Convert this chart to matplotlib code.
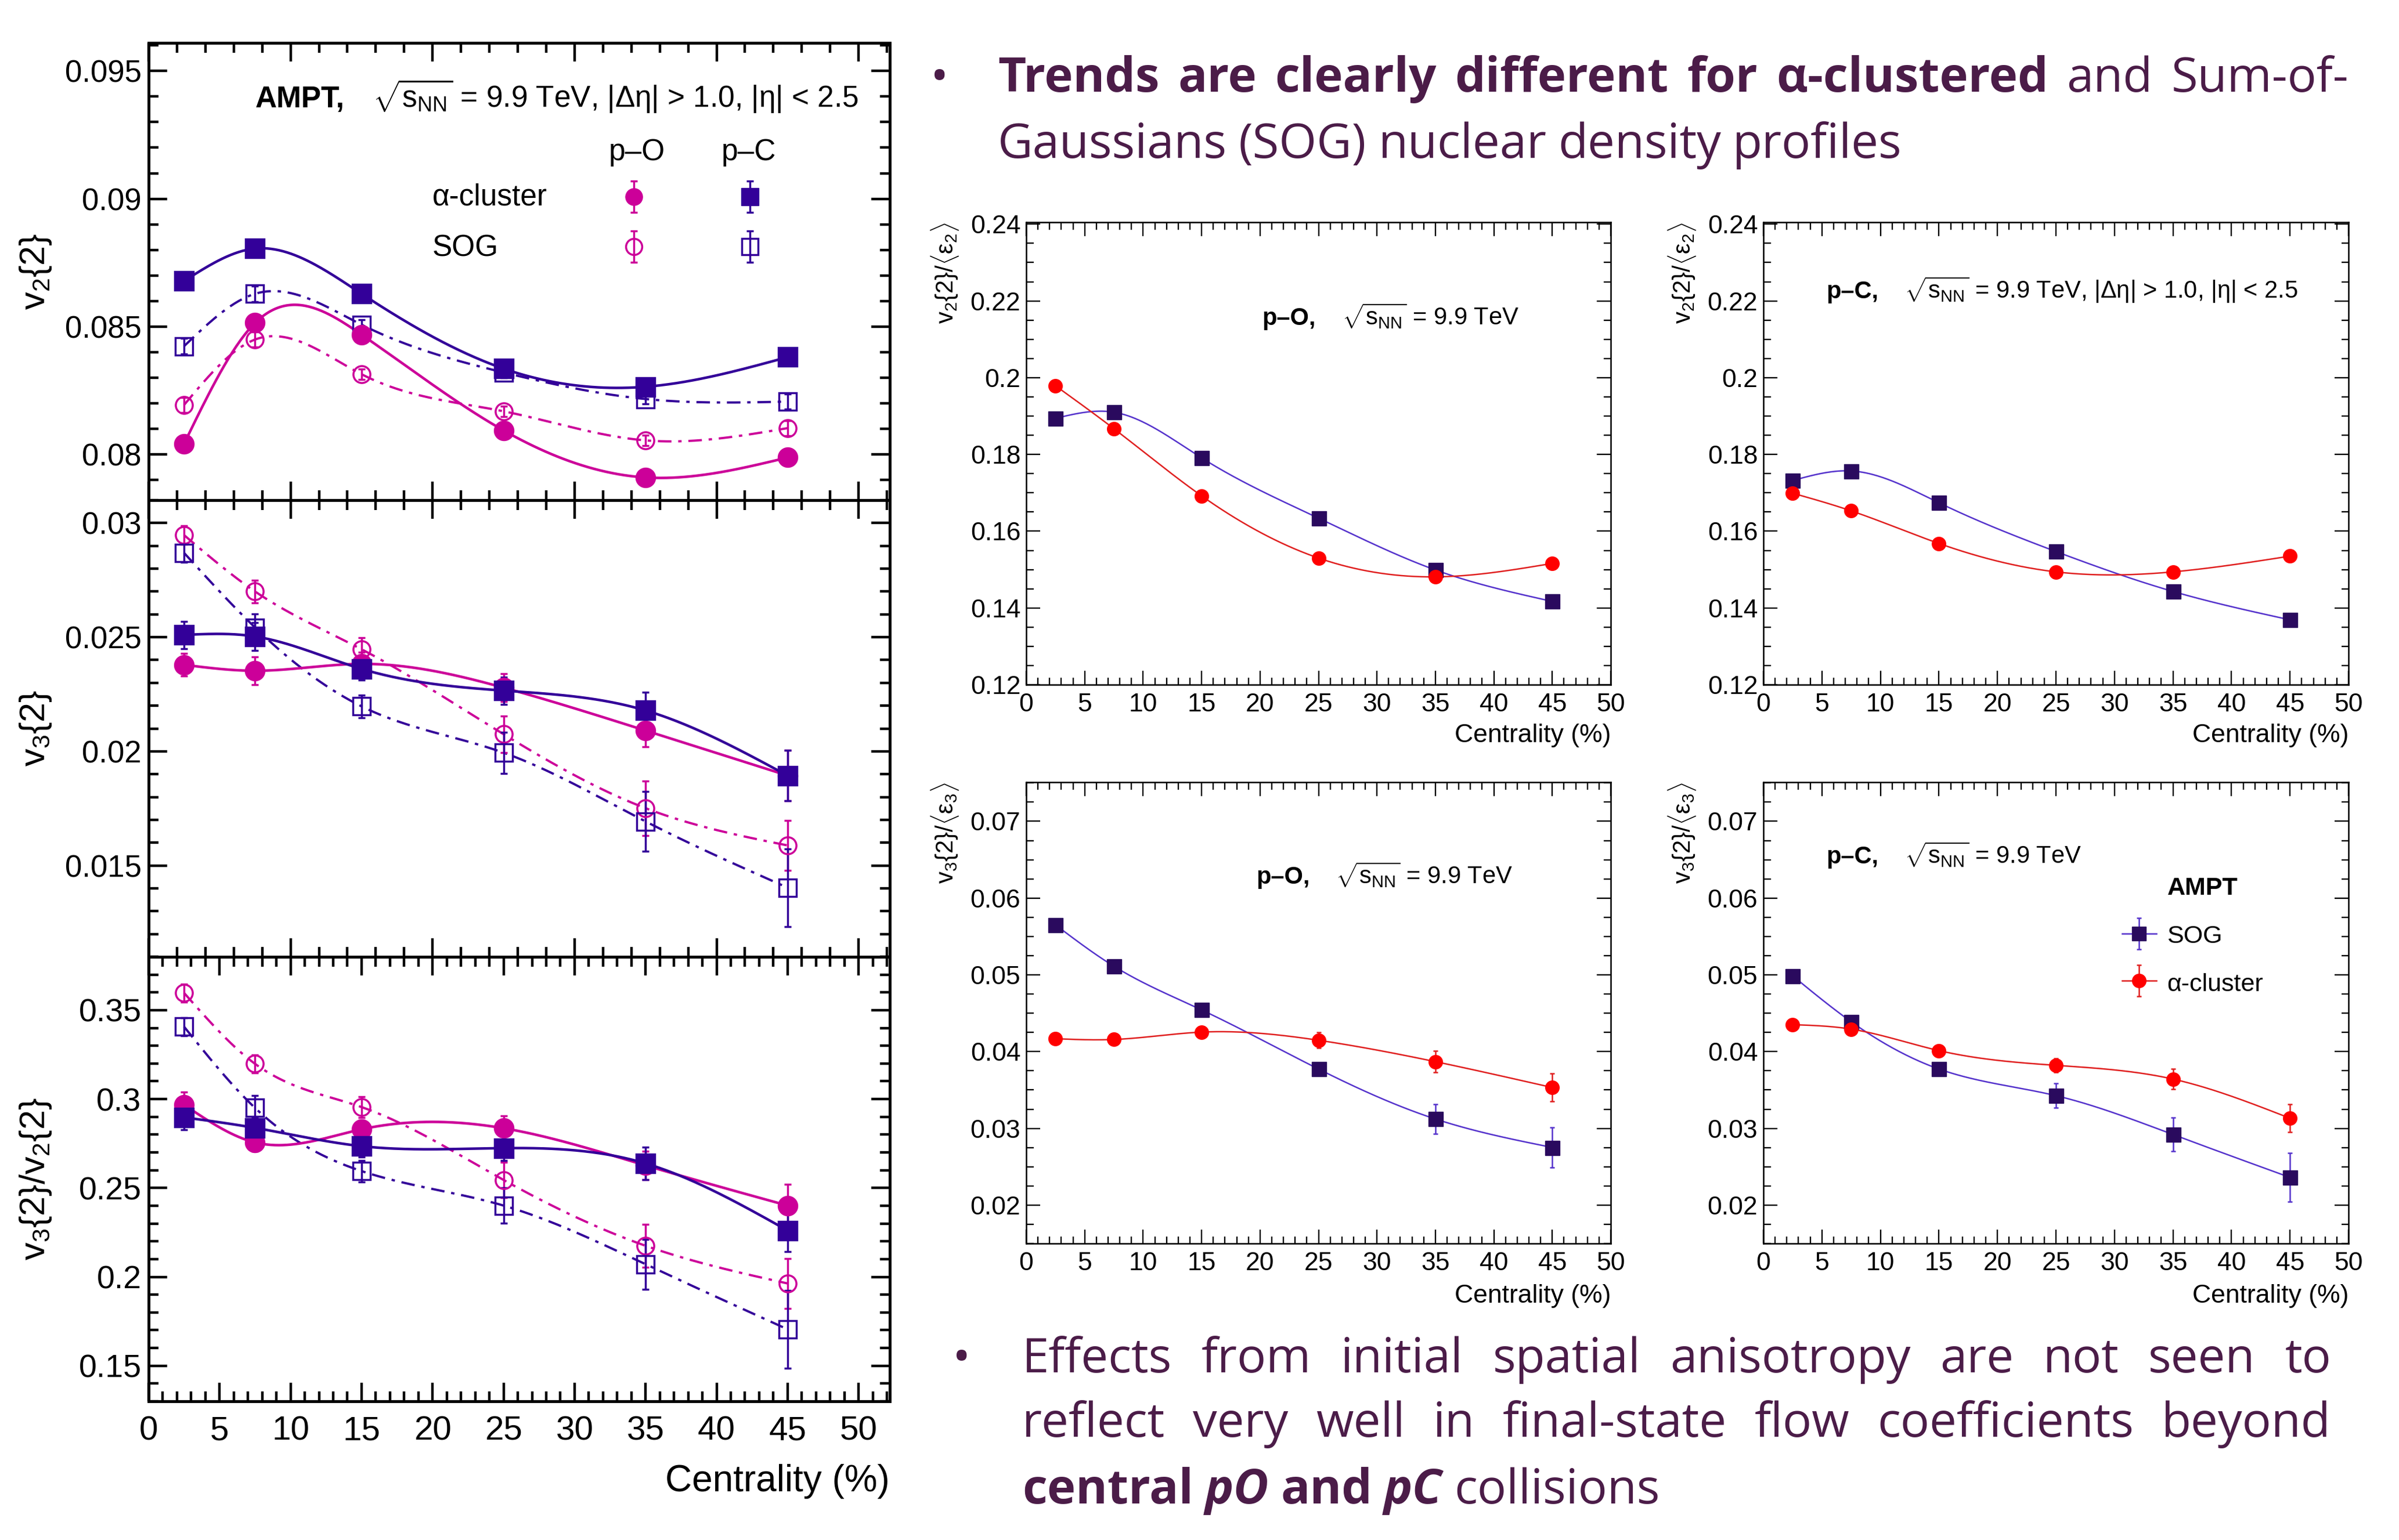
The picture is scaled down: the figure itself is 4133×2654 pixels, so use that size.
import numpy as np
import matplotlib
matplotlib.use("Agg")
import matplotlib.pyplot as plt
from matplotlib.ticker import MultipleLocator, FuncFormatter

W, H = 4133, 2654

# centrality bins (%)
cent = [2.5, 7.5, 15, 25, 35, 45]

# left column: v2{2}
v2_pC_alpha = [0.08678, 0.08805, 0.08628, 0.08335, 0.08264, 0.08380]
v2_pO_alpha = [0.08041, 0.08514, 0.08468, 0.08093, 0.07909, 0.07987]
v2_pC_sog = [0.08423, 0.08628, 0.08507, 0.08320, 0.08216, 0.08206]
v2_pO_sog = [0.08193, 0.08449, 0.08313, 0.08168, 0.08054, 0.08102]
v2_err_alpha = [0.0002, 0.0002, 0.0002, 0.0002, 0.0002, 0.0002]
v2_err_sog = [0.0003, 0.0003, 0.0002, 0.0002, 0.0002, 0.0003]

# left column: v3{2}
v3_pC_alpha = [0.02510, 0.02503, 0.02361, 0.02266, 0.02179, 0.01894]
v3_pO_alpha = [0.02379, 0.02353, 0.02383, 0.02279, 0.02091, 0.01894]
v3_pC_sog = [0.02869, 0.02542, 0.02197, 0.01994, 0.01693, 0.01403]
v3_pO_sog = [0.02947, 0.02700, 0.02447, 0.02075, 0.01751, 0.01588]
v3_err_pC_alpha = [0.0006, 0.0006, 0.0005, 0.0006, 0.0008, 0.0011]
v3_err_pO_alpha = [0.0005, 0.0006, 0.0005, 0.0006, 0.0007, 0.0011]
v3_err_pC_sog = [0.0004, 0.0006, 0.0005, 0.0009, 0.0013, 0.0017]
v3_err_pO_sog = [0.0004, 0.0005, 0.0005, 0.0008, 0.0012, 0.0011]

# left column: v3{2}/v2{2}
r_pC_alpha = [0.2897, 0.2838, 0.2735, 0.2724, 0.2638, 0.2261]
r_pO_alpha = [0.2968, 0.2756, 0.2830, 0.2836, 0.2627, 0.2401]
r_pC_sog = [0.3407, 0.2950, 0.2595, 0.2401, 0.2071, 0.1705]
r_pO_sog = [0.3597, 0.3198, 0.2955, 0.2545, 0.2175, 0.1963]
r_err_pC_alpha = [0.007, 0.006, 0.006, 0.007, 0.009, 0.012]
r_err_pO_alpha = [0.007, 0.005, 0.005, 0.007, 0.008, 0.012]
r_err_pC_sog = [0.005, 0.007, 0.006, 0.010, 0.014, 0.022]
r_err_pO_sog = [0.005, 0.005, 0.006, 0.010, 0.012, 0.014]

# right block: v2{2}/<eps2>
e2_pO_sog = [0.1894, 0.1910, 0.1791, 0.1634, 0.1499, 0.1417]
e2_pO_alpha = [0.1979, 0.1867, 0.1692, 0.1530, 0.1481, 0.1516]
e2_pC_sog = [0.1732, 0.1757, 0.1674, 0.1547, 0.1443, 0.1369]
e2_pC_alpha = [0.1699, 0.1653, 0.1568, 0.1494, 0.1494, 0.1535]
e2_err = [0.0005, 0.0005, 0.0005, 0.0006, 0.0008, 0.0010]

# right block: v3{2}/<eps3>
e3_pO_sog = [0.05651, 0.05112, 0.04543, 0.03773, 0.03122, 0.02751]
e3_pO_alpha = [0.04168, 0.04158, 0.04254, 0.04148, 0.03869, 0.03532]
e3_pC_sog = [0.04987, 0.04389, 0.03773, 0.03426, 0.02920, 0.02361]
e3_pC_alpha = [0.04351, 0.04293, 0.04013, 0.03821, 0.03642, 0.03132]
e3_err_pO_sog = [0.0004, 0.0004, 0.0004, 0.0007, 0.0019, 0.0026]
e3_err_pO_alpha = [0.0005, 0.0005, 0.0005, 0.0010, 0.0014, 0.0018]
e3_err_pC_sog = [0.0005, 0.0005, 0.0005, 0.0016, 0.0022, 0.0032]
e3_err_pC_alpha = [0.0006, 0.0005, 0.0005, 0.0009, 0.0013, 0.0018]

MAG = "#cc0099"
IND = "#330099"
RED = "#ff0000"
RED_L = "#e02020"
SQ = "#2a0a5e"
SQ_L = "#5533cc"
TXT = "#4b1c48"

plt.rcParams["font.family"] = ["Liberation Sans", "DejaVu Sans"]
plt.rcParams["mathtext.fontset"] = "custom"
plt.rcParams["mathtext.rm"] = "Liberation Sans"
plt.rcParams["mathtext.it"] = "Liberation Sans:italic"
plt.rcParams["mathtext.bf"] = "Liberation Sans:bold"


def spline(x, y, n=300):
    # natural cubic spline through the points (like ROOT "C" option)
    x = np.asarray(x, float)
    y = np.asarray(y, float)
    k = len(x)
    h = np.diff(x)
    A = np.zeros((k, k))
    b = np.zeros(k)
    A[0, 0] = A[-1, -1] = 1
    for i in range(1, k - 1):
        A[i, i - 1] = h[i - 1]
        A[i, i] = 2 * (h[i - 1] + h[i])
        A[i, i + 1] = h[i]
        b[i] = 6 * ((y[i + 1] - y[i]) / h[i] - (y[i] - y[i - 1]) / h[i - 1])
    M = np.linalg.solve(A, b)
    xs = np.linspace(x[0], x[-1], n)
    idx = np.clip(np.searchsorted(x, xs) - 1, 0, k - 2)
    x0, x1 = x[idx], x[idx + 1]
    hh = x1 - x0
    a = (x1 - xs) / hh
    bb = (xs - x0) / hh
    ys = a * y[idx] + bb * y[idx + 1] + ((a**3 - a) * M[idx] + (bb**3 - bb) * M[idx + 1]) * hh**2 / 6
    return xs, ys


fig = plt.figure(figsize=(W / 100, H / 100), dpi=100)
fig.patch.set_facecolor("white")


def px_axes(x0, y0, x1, y1):
    return fig.add_axes([x0 / W, 1 - y1 / H, (x1 - x0) / W, (y1 - y0) / H])


fmt = FuncFormatter(lambda v, p: "%g" % round(v, 5))


def left_style(ax, ylim, ymaj, ymin, xmaj, xmin, show_x):
    ax.set_xlim(0, 52.2)
    ax.set_ylim(*ylim)
    ax.xaxis.set_major_locator(MultipleLocator(xmaj))
    ax.xaxis.set_minor_locator(MultipleLocator(xmin))
    ax.yaxis.set_major_locator(MultipleLocator(ymaj))
    ax.yaxis.set_minor_locator(MultipleLocator(ymin))
    ax.yaxis.set_major_formatter(fmt)
    ax.tick_params(which="both", direction="in", top=True, right=True, width=3.2)
    ax.tick_params(which="major", length=23)
    ax.tick_params(which="minor", length=12)
    ax.tick_params(axis="y", labelsize=38, pad=9)
    ax.tick_params(axis="x", labelsize=42, pad=18, labelbottom=show_x)
    for s in ax.spines.values():
        s.set_linewidth(3.6)


def left_series(ax, y, err, color, marker, filled, ls, lw):
    xs, ys = spline(cent, y)
    ax.plot(xs, ys, color=color, lw=lw, ls=ls, zorder=2)
    ax.errorbar(cent, y, yerr=err, fmt=marker, color=color,
                mfc=color if filled else "none", mec=color,
                ms=23 if filled else 21, mew=2.5, elinewidth=2.5,
                capsize=4, capthick=2.5, zorder=3)


DD = (0, (6, 3, 1.5, 3))

ax1 = px_axes(256, 74, 1533, 862)
left_series(ax1, v2_pO_sog, v2_err_sog, MAG, "o", False, DD, 2.8)
left_series(ax1, v2_pC_sog, v2_err_sog, IND, "s", False, DD, 2.8)
left_series(ax1, v2_pO_alpha, v2_err_alpha, MAG, "o", True, "-", 3.2)
left_series(ax1, v2_pC_alpha, v2_err_alpha, IND, "s", True, "-", 3.2)
left_style(ax1, (0.0782, 0.0961), 0.005, 0.001, 10, 2, False)

ax2 = px_axes(256, 862, 1533, 1649)
left_series(ax2, v3_pO_sog, v3_err_pO_sog, MAG, "o", False, DD, 2.8)
left_series(ax2, v3_pC_sog, v3_err_pC_sog, IND, "s", False, DD, 2.8)
left_series(ax2, v3_pO_alpha, v3_err_pO_alpha, MAG, "o", True, "-", 3.2)
left_series(ax2, v3_pC_alpha, v3_err_pC_alpha, IND, "s", True, "-", 3.2)
left_style(ax2, (0.0110, 0.0310), 0.005, 0.001, 10, 2, False)

ax3 = px_axes(256, 1649, 1533, 2415)
left_series(ax3, r_pO_sog, r_err_pO_sog, MAG, "o", False, DD, 2.8)
left_series(ax3, r_pC_sog, r_err_pC_sog, IND, "s", False, DD, 2.8)
left_series(ax3, r_pO_alpha, r_err_pO_alpha, MAG, "o", True, "-", 3.2)
left_series(ax3, r_pC_alpha, r_err_pC_alpha, IND, "s", True, "-", 3.2)
left_style(ax3, (0.130, 0.380), 0.05, 0.01, 5, 1, True)
ax3.tick_params(axis="y", labelsize=40)


def right_style(ax, ylim, ymaj, ymin):
    ax.set_xlim(0, 50)
    ax.set_ylim(*ylim)
    ax.xaxis.set_major_locator(MultipleLocator(5))
    ax.xaxis.set_minor_locator(MultipleLocator(1))
    ax.yaxis.set_major_locator(MultipleLocator(ymaj))
    ax.yaxis.set_minor_locator(MultipleLocator(ymin))
    ax.yaxis.set_major_formatter(fmt)
    ax.tick_params(which="both", direction="in", top=True, right=True, width=1.7)
    ax.tick_params(which="major", length=17)
    ax.tick_params(which="minor", length=9)
    ax.tick_params(axis="y", labelsize=32, pad=7)
    ax.tick_params(axis="x", labelsize=32, pad=10)
    for s in ax.spines.values():
        s.set_linewidth(1.8)


def right_series(ax, y, err, mcol, lcol, marker, ms):
    xs, ys = spline(cent, y)
    ax.plot(xs, ys, color=lcol, lw=1.8, zorder=2)
    ax.errorbar(cent, y, yerr=err, fmt=marker, color=lcol, mfc=mcol, mec=mcol,
                ms=ms, elinewidth=1.8, capsize=3, capthick=1.8, zorder=3)


axA = px_axes(1768, 383, 2775, 1180)
right_series(axA, e2_pO_sog, e2_err, SQ, SQ_L, "s", 18)
right_series(axA, e2_pO_alpha, e2_err, RED, RED_L, "o", 17)
right_style(axA, (0.12, 0.2405), 0.02, 0.005)

axB = px_axes(3038, 383, 4046, 1180)
right_series(axB, e2_pC_sog, e2_err, SQ, SQ_L, "s", 18)
right_series(axB, e2_pC_alpha, e2_err, RED, RED_L, "o", 17)
right_style(axB, (0.12, 0.2405), 0.02, 0.005)

axC = px_axes(1768, 1348, 2775, 2143)
right_series(axC, e3_pO_sog, e3_err_pO_sog, SQ, SQ_L, "s", 18)
right_series(axC, e3_pO_alpha, e3_err_pO_alpha, RED, RED_L, "o", 17)
right_style(axC, (0.015, 0.0751), 0.01, 0.0025)

axD = px_axes(3038, 1348, 4046, 2143)
right_series(axD, e3_pC_sog, e3_err_pC_sog, SQ, SQ_L, "s", 18)
right_series(axD, e3_pC_alpha, e3_err_pC_alpha, RED, RED_L, "o", 17)
right_style(axD, (0.015, 0.0751), 0.01, 0.0025)

# overlay in pixel coordinates for labels, legends and slide text
ov = fig.add_axes([0, 0, 1, 1])
ov.set_xlim(0, W)
ov.set_ylim(H, 0)
ov.axis("off")
ov.patch.set_alpha(0)

# left column labels
ov.text(62, 468, r"$\mathrm{v_{2}\{2\}}$", fontsize=44, rotation=90, ha="center", va="center")
ov.text(62, 1255, r"$\mathrm{v_{3}\{2\}}$", fontsize=44, rotation=90, ha="center", va="center")
ov.text(62, 2032, r"$\mathrm{v_{3}\{2\}/v_{2}\{2\}}$", fontsize=44, rotation=90, ha="center", va="center")
ov.text(1533, 2553, "Centrality (%)", fontsize=46, ha="right", va="center")

sq = r"$\sqrt{\mathrm{s}_{\mathrm{NN}}}$ = 9.9 TeV"
ov.text(440, 185, "AMPT,", fontsize=37, fontweight="bold", va="baseline")
ov.text(642, 185, sq + ", |Δη| > 1.0, |η| < 2.5", fontsize=37, va="baseline")
ov.text(1097, 276, "p–O", fontsize=37, ha="center", va="baseline")
ov.text(1290, 276, "p–C", fontsize=37, ha="center", va="baseline")
ov.text(745, 353, "α-cluster", fontsize=37, va="baseline")
ov.text(745, 442, "SOG", fontsize=37, va="baseline")
for px, col, mk in [(1092, MAG, "o"), (1292, IND, "s")]:
    ov.errorbar([px], [339], yerr=[[27], [27]], fmt=mk, color=col, mfc=col, mec=col,
                ms=21, elinewidth=2.5, capsize=4, capthick=2.5)
    ov.errorbar([px], [425], yerr=[[27], [27]], fmt=mk, color=col, mfc="none", mec=col,
                ms=20, mew=2.5, elinewidth=2.5, capsize=4, capthick=2.5)

# right block labels
for x0, x1, ytop, lab in [(1768, 2775, 383, r"$\mathrm{v_{2}\{2\}/\langle\epsilon_{2}\rangle}$"),
                          (3038, 4046, 383, r"$\mathrm{v_{2}\{2\}/\langle\epsilon_{2}\rangle}$"),
                          (1768, 2775, 1348, r"$\mathrm{v_{3}\{2\}/\langle\epsilon_{3}\rangle}$"),
                          (3038, 4046, 1348, r"$\mathrm{v_{3}\{2\}/\langle\epsilon_{3}\rangle}$")]:
    ov.text(x0 - 140, ytop, lab, fontsize=30, rotation=90, ha="center", va="top")
    ov.text(x1, ytop + 885, "Centrality (%)", fontsize=32, ha="right", va="center")

ov.text(2174, 560, "p–O,", fontsize=30, fontweight="bold", va="baseline")
ov.text(2312, 560, sq, fontsize=30, va="baseline")
ov.text(3146, 514, "p–C,", fontsize=30, fontweight="bold", va="baseline")
ov.text(3281, 514, sq + ", |Δη| > 1.0, |η| < 2.5", fontsize=30, va="baseline")
ov.text(2164, 1523, "p–O,", fontsize=30, fontweight="bold", va="baseline")
ov.text(2301, 1523, sq, fontsize=30, va="baseline")
ov.text(3146, 1488, "p–C,", fontsize=30, fontweight="bold", va="baseline")
ov.text(3281, 1488, sq, fontsize=30, va="baseline")

ov.text(3795, 1542, "AMPT", fontsize=31, fontweight="bold", ha="center", va="baseline")
ov.text(3733, 1625, "SOG", fontsize=31, va="baseline")
ov.text(3733, 1708, "α-cluster", fontsize=31, va="baseline")
for yy, mcol, lcol, mk in [(1609, SQ, SQ_L, "s"), (1690, RED, RED_L, "o")]:
    ov.plot([3656, 3715], [yy, yy], color=lcol, lw=1.8)
    ov.errorbar([3685], [yy], yerr=[[27], [27]], fmt=mk, color=lcol, mfc=mcol, mec=mcol,
                ms=17, elinewidth=1.8, capsize=3, capthick=1.8)

# slide text
SLIDE_FONT = ["Open Sans", "DejaVu Sans"]
FS = 60
renderer = fig.canvas.get_renderer()


def run_line(runs, x0, base, x1=None):
    objs = []
    for text, weight, style in runs:
        for w in text.split():
            objs.append(ov.text(0, base, w, fontsize=FS, fontweight=weight, fontstyle=style,
                                family=SLIDE_FONT, color=TXT, va="baseline", ha="left"))
    widths = [o.get_window_extent(renderer).width for o in objs]
    if x1 is None:
        gap = 0.24 * FS * 100 / 72
    else:
        gap = max((x1 - x0 - sum(widths)) / (len(objs) - 1), 8)
    x = x0
    for o, w in zip(objs, widths):
        o.set_x(x)
        x += w + gap


ov.text(1603, 158, "•", fontsize=FS, family=SLIDE_FONT, color=TXT, va="baseline")
run_line([("Trends are clearly different for α-clustered", "bold", "normal"),
          ("and Sum-of-", "normal", "normal")], 1719, 158, 4046)
run_line([("Gaussians (SOG) nuclear density profiles", "normal", "normal")], 1719, 272)

ov.text(1641, 2365, "•", fontsize=FS, family=SLIDE_FONT, color=TXT, va="baseline")
run_line([("Effects from initial spatial anisotropy are not seen to", "normal", "normal")], 1761, 2365, 4016)
run_line([("reflect very well in final-state flow coefficients beyond", "normal", "normal")], 1761, 2476, 4016)
run_line([("central", "bold", "normal"), ("pO", "bold", "italic"), ("and", "bold", "normal"),
          ("pC", "bold", "italic"), ("collisions", "normal", "normal")], 1761, 2591)

fig.savefig("out.png", dpi=100, facecolor="white")
